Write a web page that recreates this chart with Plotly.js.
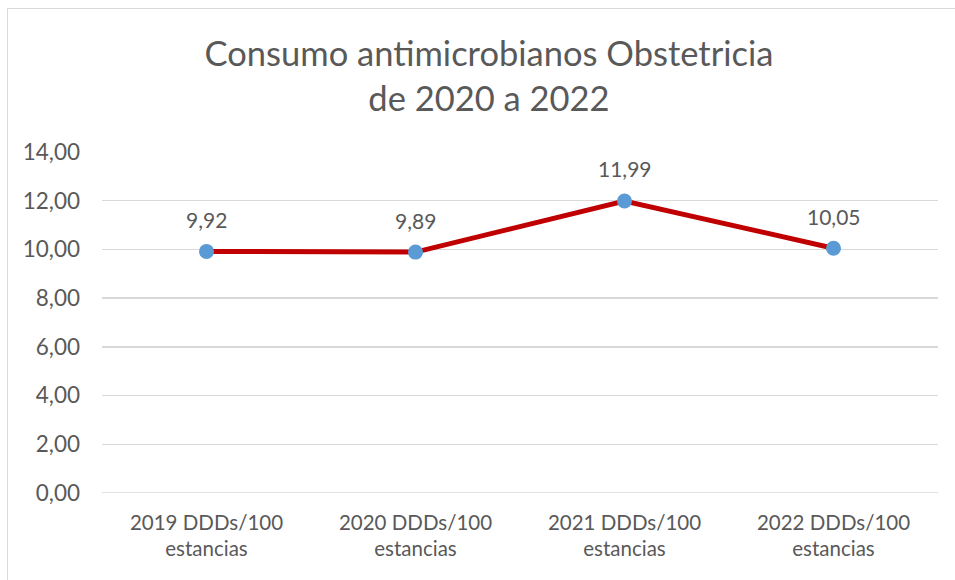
<!DOCTYPE html>
<html>
<head>
<meta charset="utf-8">
<script src="https://cdn.plot.ly/plotly-3.0.1.min.js"></script>
<style>
html,body{margin:0;padding:0;background:#fff;overflow:hidden;}
#wrap{position:relative;width:955px;height:580px;}
#chart{position:absolute;left:0;top:0;width:955px;height:580px;}
#frame{position:absolute;left:7px;top:8px;width:1000px;height:1000px;border-left:1px solid #D9D9D9;border-top:1px solid #D9D9D9;pointer-events:none;}
</style>
</head>
<body>
<div id="wrap"><div id="chart"></div><div id="frame"></div></div>
<script>
const categories = ["2019 DDDs/100<br>estancias", "2020 DDDs/100<br>estancias", "2021 DDDs/100<br>estancias", "2022 DDDs/100<br>estancias"];
const values = [9.92, 9.89, 11.99, 10.05];
const yTicks = [0, 2, 4, 6, 8, 10, 12, 14];
const chartTitle = "Consumo antimicrobianos Obstetricia<br>de 2020 a 2022";

const fmt = v => v.toFixed(2).replace('.', ',');
const FONT = "Lato, 'Open Sans', sans-serif";
const GRAY = "#595959";

const trace = {
  x: categories,
  y: values,
  type: 'scatter',
  mode: 'lines+markers',
  line: {color: '#C00000', width: 5},
  marker: {color: '#5B9BD5', size: 15},
  hoverinfo: 'none'
};

const annotations = categories.map((c, i) => ({
  x: c, y: values[i], xref: 'x', yref: 'y',
  text: fmt(values[i]), showarrow: false,
  yanchor: 'middle', yshift: 32,
  font: {family: FONT, size: 21, color: GRAY}
}));

const layout = {
  width: 955, height: 580,
  margin: {l: 102, r: 17, t: 152, b: 87},
  paper_bgcolor: '#fff', plot_bgcolor: '#fff',
  separators: ',.',
  showlegend: false,
  title: {
    text: chartTitle,
    x: 489/955, xanchor: 'center', xref: 'container',
    y: 1 - 66/580, yanchor: 'middle', yref: 'container',
    font: {family: FONT, size: 34.5, color: GRAY}
  },
  xaxis: {
    type: 'category',
    range: [-0.5, 3.5],
    showgrid: false, zeroline: false, showline: false,
    ticks: '',
    tickfont: {family: FONT, size: 20.5, color: GRAY},
    ticklabelstandoff: 15,
    fixedrange: true
  },
  yaxis: {
    range: [0, 14],
    tickvals: yTicks,
    tickformat: '.2f',
    showgrid: true, gridcolor: '#D9D9D9', gridwidth: 1.3,
    zeroline: false, showline: false, ticks: '',
    tickfont: {family: FONT, size: 22.5, color: GRAY},
    ticklabelstandoff: 21,
    fixedrange: true
  },
  shapes: [{
    type: 'line', xref: 'paper', yref: 'y', x0: 0, x1: 1, y0: 0, y1: 0,
    line: {color: '#D9D9D9', width: 1.3}, layer: 'below'
  }],
  annotations: annotations
};

Plotly.newPlot('chart', [trace], layout, {staticPlot: true, displayModeBar: false});
</script>
</body>
</html>
